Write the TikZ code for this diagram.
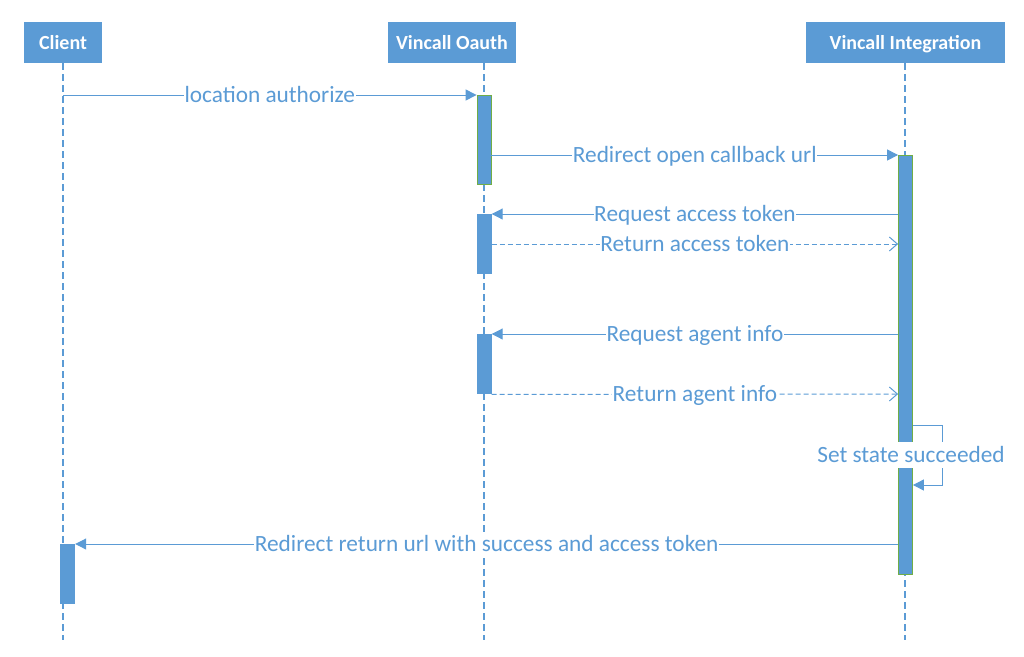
\documentclass[tikz,border=0pt]{standalone}
\usepackage{fontspec}
\setmainfont{Carlito}
\usetikzlibrary{arrows.meta}
\definecolor{mblue}{HTML}{5B9BD5}
\definecolor{mgreen}{HTML}{70AD47}
\tikzset{
  head/.style={fill=mblue, draw=none, text=white, font=\fontsize{20}{22}\selectfont\bfseries, inner sep=0pt, text height=13.8pt, text depth=0pt},
  life/.style={draw=mblue, line width=1.1pt, dash pattern=on 7pt off 4pt},
  bar/.style={fill=mblue, draw=mgreen, line width=0.8pt, minimum width=14pt, inner sep=0pt, anchor=north},
  barp/.style={fill=mblue, draw=none, minimum width=15pt, inner sep=0pt, anchor=north},
  msg/.style={draw=mblue, line width=1pt, -{Triangle[length=11pt,width=11pt]}},
  ret/.style={draw=mblue, line width=1pt, dash pattern=on 5pt off 3pt, -{Straight Barb[length=8pt,width=14pt,line width=1pt]}},
  lbl/.style={fill=white, text=mblue, font=\fontsize{23.3}{25}\selectfont, inner sep=0.5pt, text height=18pt, text depth=4pt}
}
\begin{document}
\begin{tikzpicture}[x=1pt,y=-1pt]
\useasboundingbox (0,0) rectangle (1024,656);
% headers
\node[head, minimum width=78pt, minimum height=41pt] (client) at (63,42.5) {Client};
\node[head, minimum width=128pt, minimum height=41pt] (oauth) at (452,42.5) {Vincall Oauth};
\node[head, minimum width=199pt, minimum height=41pt] (integ) at (905.5,42.5) {Vincall Integration};
% lifeline ends
\coordinate (cend) at (63,640);
\coordinate (oend) at (484,640);
\coordinate (iend) at (905,640);
\coordinate (ctop) at (63,63);
\coordinate (otop) at (484,63);
\coordinate (itop) at (905,63);
\draw[life] (ctop) -- (cend);
\draw[life] (otop) -- (oend);
\draw[life] (itop) -- (iend);
% activation bars
\node[bar, minimum height=89pt] (ob1) at (484,95) {};
\node[barp, minimum height=60pt] (ob2) at (484,214) {};
\node[barp, minimum height=60pt] (ob3) at (484,334) {};
\node[bar, minimum height=419pt] (ib1) at (905.5,155) {};
\node[barp, minimum height=60pt] (cb1) at (67.5,544) {};
% messages
\coordinate (m1s) at (63,95);
\draw[msg] (m1s) -- node[lbl] {location authorize} (ob1.north west);
\draw[msg] (ob1.east |- 0,155) -- node[lbl] {Redirect open callback url} (ib1.north west);
\draw[msg] (ib1.west |- 0,214) -- node[lbl] {Request access token} (ob2.north east);
\draw[ret] (ob2.east |- 0,244) -- node[lbl] {Return access token} (ib1.west |- 0,244);
\draw[msg] (ib1.west |- 0,334) -- node[lbl] {Request agent info} (ob3.north east);
\draw[ret] (ob3.south east) -- node[lbl] {Return agent info} (ib1.west |- 0,394);
\draw[msg] (ib1.east |- 0,425) -- (942,425) -- (942,485) -- (ib1.east |- 0,485);
\node[lbl, inner sep=2pt] (self) at (911,455) {Set state succeeded};
\draw[msg] (ib1.west |- 0,544) -- node[lbl] {Redirect return url with success and access token} (cb1.north east);
\end{tikzpicture}
\end{document}
